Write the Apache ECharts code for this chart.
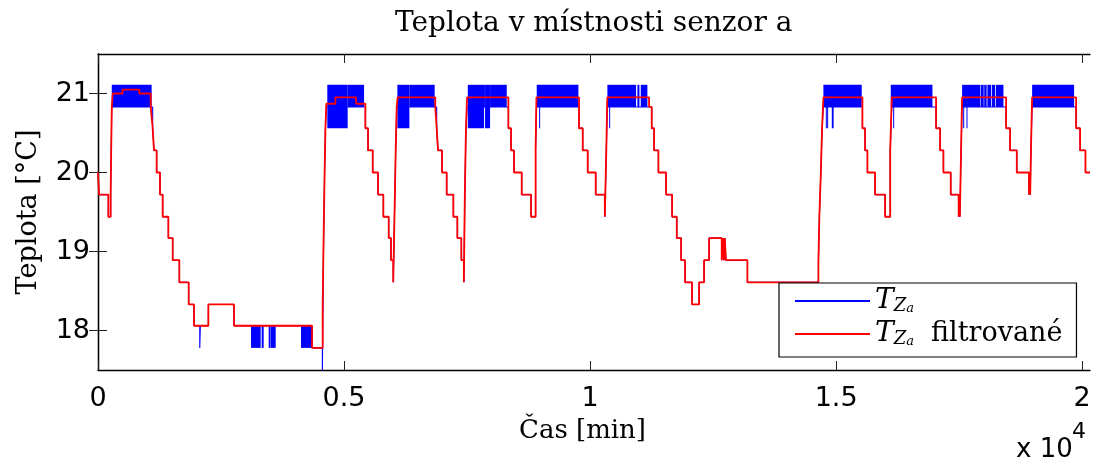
<!DOCTYPE html>
<html>
<head>
<meta charset="utf-8">
<script src="https://cdn.jsdelivr.net/npm/echarts@6/dist/echarts.min.js"></script>
<style>
html,body{margin:0;padding:0;background:#fff;}
#chart{width:1097px;height:464px;}
</style>
</head>
<body>
<div id="chart"></div>
<script>
// ---- data (time in minutes, temperature in °C) ----
const xTicks = [0, 5000, 10000, 15000, 20000];
const xTickLabels = ['0', '0.5', '1', '1.5', '2'];
const yTicks = [18, 19, 20, 21];

// filtered signal: step values (value holds from time until next time)
const filtT = [0, 20, 210, 257, 268, 280, 300, 501, 840, 1071, 1111, 1138, 1192, 1260, 1314, 1430, 1518, 1653, 1843, 1951, 2243, 2764, 4350, 4566, 4585, 4605, 4622, 4640, 4824, 5244, 5434, 5488, 5583, 5691, 5799, 5908, 5955, 6000, 6025, 6050, 6070, 6090, 6854, 6883, 6910, 6992, 7086, 7222, 7303, 7384, 7435, 7455, 7478, 7500, 8340, 8394, 8455, 8611, 8801, 8893, 8910, 9776, 9851, 9952, 10115, 10300, 10330, 10350, 11199, 11253, 11301, 11389, 11545, 11667, 11762, 11850, 11931, 12073, 12216, 12317, 12419, 12676, 12700, 12720, 12740, 12760, 13198, 14641, 14660, 14690, 14715, 14742, 15535, 15589, 15637, 15792, 15996, 16100, 16131, 17032, 17114, 17181, 17330, 17490, 17505, 17515, 17540, 17560, 18455, 18536, 18672, 18920, 18935, 18945, 18960, 18983, 19878, 19959, 20068, 20160];
const filtV = [20.00, 19.72, 19.44, 19.72, 20.28, 20.83, 21.00, 21.05, 21.00, 20.83, 20.56, 20.28, 20.00, 19.72, 19.44, 19.17, 18.89, 18.61, 18.33, 18.06, 18.33, 18.06, 17.78, 18.33, 19.17, 20.00, 20.56, 20.87, 20.95, 20.87, 20.56, 20.28, 20.00, 19.72, 19.44, 19.17, 18.89, 18.61, 19.44, 20.28, 20.83, 20.95, 20.83, 20.56, 20.28, 20.00, 19.72, 19.44, 19.17, 18.89, 18.61, 19.72, 20.56, 20.95, 20.56, 20.28, 20.00, 19.72, 19.44, 20.28, 20.95, 20.56, 20.28, 20.00, 19.72, 19.44, 20.28, 20.95, 20.83, 20.56, 20.28, 20.00, 19.72, 19.44, 19.17, 18.89, 18.61, 18.33, 18.61, 18.89, 19.17, 18.89, 19.17, 18.89, 19.17, 18.89, 18.61, 18.89, 19.44, 20.00, 20.56, 20.95, 20.56, 20.28, 20.00, 19.72, 19.44, 20.28, 20.95, 20.56, 20.28, 20.00, 19.72, 19.44, 19.72, 19.44, 20.28, 20.95, 20.56, 20.28, 20.00, 19.72, 20.00, 19.72, 20.28, 20.95, 20.56, 20.28, 20.00, 20.00];

// raw signal (outside the fast-oscillation intervals)
const rawT = [0, 20, 210, 257, 268, 280, 1111, 1138, 1192, 1260, 1314, 1430, 1518, 1653, 1843, 1951, 2068, 2080, 2243, 2764, 4350, 4560, 4572, 4585, 4605, 4622, 4640, 5434, 5488, 5583, 5691, 5799, 5908, 5955, 6000, 6025, 6050, 6070, 6883, 6910, 6992, 7086, 7222, 7303, 7384, 7435, 7455, 7478, 7500, 8340, 8394, 8455, 8611, 8801, 8893, 8910, 9776, 9851, 9952, 10115, 10300, 10330, 10350, 11253, 11301, 11389, 11545, 11667, 11762, 11850, 11931, 12073, 12216, 12317, 12419, 12676, 12700, 12720, 12740, 12760, 13198, 14641, 14660, 14690, 14715, 14742, 15535, 15589, 15637, 15792, 15996, 16100, 16131, 17032, 17114, 17181, 17330, 17490, 17505, 17515, 17540, 17560, 18455, 18536, 18672, 18920, 18935, 18945, 18960, 18983, 19878, 19959, 20068, 20160];
const rawV = [20.00, 19.72, 19.44, 19.72, 20.28, 20.83, 20.56, 20.28, 20.00, 19.72, 19.44, 19.17, 18.89, 18.61, 18.33, 18.06, 17.78, 18.06, 18.33, 18.06, 17.78, 17.50, 18.33, 19.17, 20.00, 20.56, 20.83, 20.56, 20.28, 20.00, 19.72, 19.44, 19.17, 18.89, 18.61, 19.44, 20.28, 20.83, 20.56, 20.28, 20.00, 19.72, 19.44, 19.17, 18.89, 18.61, 19.72, 20.56, 20.83, 20.56, 20.28, 20.00, 19.72, 19.44, 20.28, 20.83, 20.56, 20.28, 20.00, 19.72, 19.44, 20.28, 20.83, 20.56, 20.28, 20.00, 19.72, 19.44, 19.17, 18.89, 18.61, 18.33, 18.61, 18.89, 19.17, 18.89, 19.17, 18.89, 19.17, 18.89, 18.61, 18.89, 19.44, 20.00, 20.56, 20.83, 20.56, 20.28, 20.00, 19.72, 19.44, 20.28, 20.83, 20.56, 20.28, 20.00, 19.72, 19.44, 19.72, 19.44, 20.28, 20.83, 20.56, 20.28, 20.00, 19.72, 20.00, 19.72, 20.28, 20.83, 20.56, 20.28, 20.00, 20.00];

// raw signal: intervals of fast oscillation between two levels
const bandStart = [280, 3110, 3326, 3469, 3503, 4126, 4660, 5074, 6084, 6328, 7515, 7846, 7866, 7968, 8916, 8965, 10352, 10388, 10962, 11030, 14742, 14791, 14818, 14913, 16111, 16160, 17561, 17583, 17650, 17940, 18010, 18075, 18165, 18245, 18984];
const bandEnd   = [1090, 3306, 3367, 3496, 3611, 4350, 5074, 5407, 6328, 6842, 7846, 7866, 7968, 8307, 9763, 8975, 10935, 10398, 11003, 11165, 15521, 14801, 14828, 14950, 16958, 16170, 17930, 17593, 17660, 18000, 18060, 18150, 18230, 18401, 19837];
const bandLow   = [20.83, 17.78, 17.78, 17.78, 17.78, 17.78, 20.56, 20.83, 20.56, 20.83, 20.56, 20.83, 20.56, 20.83, 20.83, 20.56, 20.83, 20.56, 20.83, 20.83, 20.83, 20.56, 20.56, 20.56, 20.83, 20.56, 20.83, 20.56, 20.56, 20.83, 20.83, 20.83, 20.83, 20.83, 20.83];
const bandHigh  = [21.11, 18.06, 18.06, 18.06, 18.06, 18.06, 21.11, 21.11, 21.11, 21.11, 21.11, 21.11, 21.11, 21.11, 21.11, 20.83, 21.11, 20.83, 21.11, 21.11, 21.11, 20.83, 20.83, 20.83, 21.11, 20.83, 21.11, 20.83, 20.83, 21.11, 21.11, 21.11, 21.11, 21.11, 21.11];

const nameRaw = 'T_Za';
const nameFilt = 'T_Za filtrované';

// ---- chart ----
const filtData = filtT.map((t, i) => [t, filtV[i]]);
const rawData = rawT.map((t, i) => [t, rawV[i]]);
const bandData = bandStart.map((s, i) => [s, bandEnd[i], bandLow[i], bandHigh[i]]);

const chart = echarts.init(document.getElementById('chart'), null, {renderer: 'canvas'});
const frame = {show: true, lineStyle: {color: '#000', width: 1.3}};
const tickStyle = {color: '#222', width: 1};
const serif = 'DejaVu Serif';
const sans = 'DejaVu Sans';

const option = {
  animation: false,
  backgroundColor: '#fff',
  title: {
    text: 'Teplota v místnosti senzor a',
    left: 390, top: 5,
    textStyle: {fontFamily: serif, fontSize: 28, fontWeight: 'normal', color: '#000'}
  },
  grid: {left: 98, right: 7, top: 54, bottom: 94, containLabel: false},
  legend: {
    data: [nameRaw, nameFilt],
    orient: 'vertical',
    left: 779, top: 283,
    padding: [4, 14, 5, 16],
    itemGap: 1,
    itemWidth: 75,
    itemHeight: 2,
    icon: 'rect',
    selectedMode: false,
    borderColor: '#000', borderWidth: 1.2, borderRadius: 0,
    backgroundColor: '#fff',
    formatter: function (n) {
      return n === nameRaw ? '{T|T}{Z|Z}{a|a}' : '{T|T}{Z|Z}{a|a}{f|  filtrované}';
    },
    textStyle: {
      color: '#000',
      rich: {
        T: {fontFamily: serif, fontStyle: 'italic', fontSize: 28, lineHeight: 28, padding: [0, 0, 4, 0], verticalAlign: 'top', color: '#000'},
        Z: {fontFamily: serif, fontStyle: 'italic', fontSize: 18, lineHeight: 16, verticalAlign: 'bottom', color: '#000'},
        a: {fontFamily: serif, fontStyle: 'italic', fontSize: 13, lineHeight: 7, verticalAlign: 'bottom', color: '#000'},
        f: {fontFamily: serif, fontSize: 27, lineHeight: 28, padding: [0, 0, 4, 0], verticalAlign: 'top', color: '#000'}
      }
    }
  },
  xAxis: [{
    type: 'value', min: 0, max: 20160, position: 'bottom',
    name: 'Čas [min]', nameLocation: 'middle', nameGap: 48,
    nameTextStyle: {fontFamily: serif, fontSize: 26, color: '#000', padding: [0, 23, 0, 0]},
    axisLine: frame,
    axisTick: {show: true, inside: true, length: 9, customValues: xTicks, lineStyle: tickStyle},
    axisLabel: {
      customValues: xTicks, margin: 15,
      fontFamily: sans, fontSize: 27, color: '#000',
      formatter: function (v) { const i = xTicks.indexOf(v); return i >= 0 ? xTickLabels[i] : ''; }
    },
    splitLine: {show: false}
  }, {
    type: 'value', min: 0, max: 20160, position: 'top',
    axisLine: frame,
    axisTick: {show: true, inside: true, length: 9, customValues: xTicks, lineStyle: tickStyle},
    axisLabel: {show: false},
    splitLine: {show: false}
  }],
  yAxis: [{
    type: 'value', min: 17.5, max: 21.5, position: 'left',
    name: 'Teplota [°C]', nameLocation: 'middle', nameGap: 56,
    nameTextStyle: {fontFamily: serif, fontSize: 27, color: '#000'},
    axisLine: frame,
    axisTick: {show: true, inside: true, length: 9, customValues: yTicks, lineStyle: tickStyle},
    axisLabel: {customValues: yTicks, margin: 8, fontFamily: sans, fontSize: 27, color: '#000'},
    splitLine: {show: false}
  }, {
    type: 'value', min: 17.5, max: 21.5, position: 'right',
    axisLine: frame,
    axisTick: {show: true, inside: true, length: 9, customValues: yTicks, lineStyle: tickStyle},
    axisLabel: {show: false},
    splitLine: {show: false}
  }],
  graphic: [
    {type: 'text', left: 1016, top: 437, z: 100,
     style: {text: 'x 10', fill: '#000', font: '26px "DejaVu Sans"'}},
    {type: 'text', left: 1072, top: 421, z: 100,
     style: {text: '4', fill: '#000', font: '22px "DejaVu Sans"'}}
  ],
  series: [{
    type: 'custom',
    name: 'oscillation',
    xAxisIndex: 0, yAxisIndex: 0,
    z: 1,
    clip: true,
    silent: true,
    encode: {x: [0, 1], y: [2, 3]},
    data: bandData,
    renderItem: function (params, api) {
      const p0 = api.coord([api.value(0), api.value(3)]);
      const p1 = api.coord([api.value(1), api.value(2)]);
      return {
        type: 'rect',
        shape: {x: p0[0], y: p0[1], width: Math.max(1, p1[0] - p0[0]), height: p1[1] - p0[1]},
        style: {fill: '#0000ff'}
      };
    }
  }, {
    type: 'line',
    name: nameRaw,
    xAxisIndex: 0, yAxisIndex: 0,
    z: 2,
    step: 'end',
    showSymbol: false,
    symbol: 'none',
    clip: true,
    color: '#0000ff',
    lineStyle: {color: '#0000ff', width: 1.1},
    data: rawData
  }, {
    type: 'line',
    name: nameFilt,
    xAxisIndex: 0, yAxisIndex: 0,
    z: 3,
    step: 'end',
    showSymbol: false,
    symbol: 'none',
    clip: true,
    color: '#ff0000',
    lineStyle: {color: '#ff0000', width: 1.8},
    data: filtData
  }]
};
chart.setOption(option);
</script>
</body>
</html>
